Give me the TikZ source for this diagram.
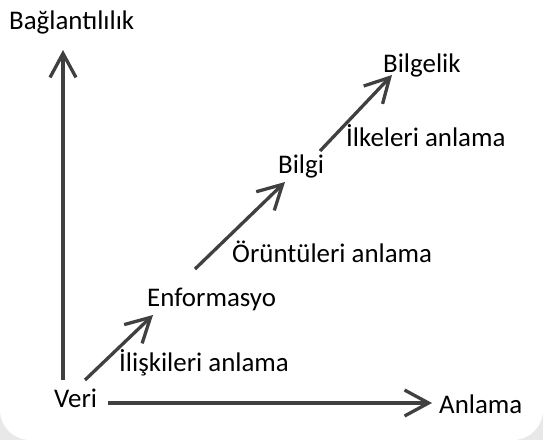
\documentclass[tikz,border=0pt]{standalone}
\usepackage{fontspec}
\setmainfont{Carlito}
\usepackage{xcolor}
\usetikzlibrary{arrows.meta,positioning,calc}
\definecolor{axisgray}{RGB}{64,64,64}
\definecolor{shadowgray}{RGB}{232,232,232}

\begin{document}
\begin{tikzpicture}[x=1pt, y=-1pt]
\tikzstyle{t} = [anchor=base west, inner sep=0pt, font=\fontsize{26.9}{31}\selectfont]
\tikzstyle{a} = [draw=axisgray, line width=3.3pt, -{Straight Barb[length=24pt, width=26pt]}]
\useasboundingbox (0,0) rectangle (543,440);
\fill [shadowgray] (0,400) rectangle (543,440);
\fill [white, rounded corners=30pt] (0,-40) rectangle (543,440);
% labels
\node [t] (baglanti) at (9,29) {Bağlantılılık};
\node [t] (veri) at (54,407) {Veri};
\node [t] (anlama) at (439,413) {Anlama};
\node [t] (enf) at (147,306) {Enformasyo};
\node [t] (iliski) at (119,371) {İlişkileri anlama};
\node [t] (bilgi) at (278,173) {Bilgi};
\node [t] (oruntu) at (232,262) {Örüntüleri anlama};
\node [t] (bilgelik) at (383,72) {Bilgelik};
\node [t] (ilke) at (346,146) {İlkeleri anlama};
% arrow ends
\coordinate (yfoot) at (63,380);
\coordinate (ytip) at (63,50);
\coordinate (xfoot) at (108,403);
\coordinate (xtip) at (432,403);
\coordinate (s1) at (85,380);
\coordinate (e1) at (153,315);
\coordinate (s2) at (195,269);
\coordinate (e2) at (285,182);
\coordinate (s3) at (320,151);
\coordinate (e3) at (392,75);
\draw [a] (yfoot) -- (ytip);
\draw [a] (xfoot) -- (xtip);
\draw [a] (s1) -- (e1);
\draw [a] (s2) -- (e2);
\draw [a] (s3) -- (e3);
\end{tikzpicture}
\end{document}
